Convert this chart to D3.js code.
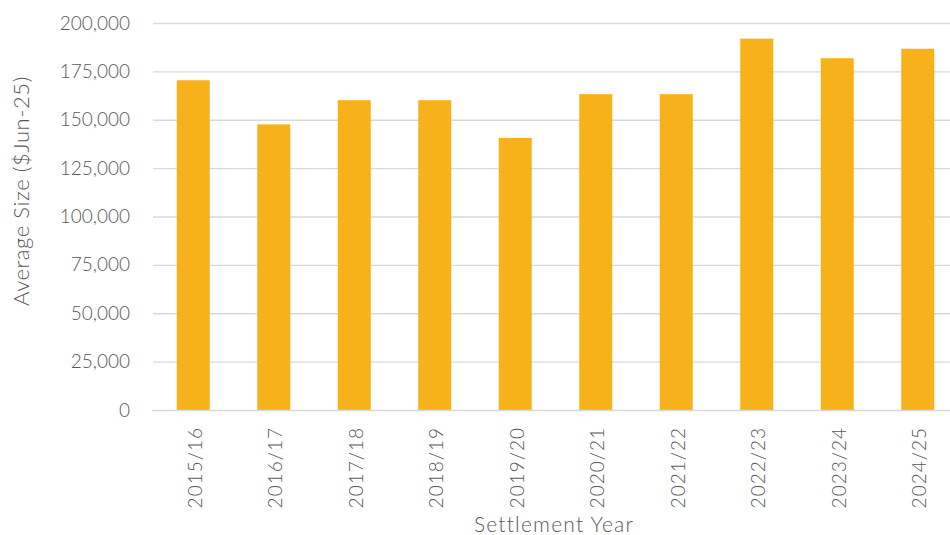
<!DOCTYPE html>
<html>
<head>
<meta charset="utf-8">
<script src="https://cdn.jsdelivr.net/npm/d3@7"></script>
<style>
  html, body { margin: 0; padding: 0; background: #fff; }
  svg { display: block; }
  text { font-family: Lato, "Open Sans", sans-serif; fill: #595959; font-weight: 300; }
</style>
</head>
<body>
<svg id="chart" width="950" height="535"></svg>
<script>
// Settlement years and average settlement size ($Jun-25)
const years = ["2015/16", "2016/17", "2017/18", "2018/19", "2019/20",
               "2020/21", "2021/22", "2022/23", "2023/24", "2024/25"];
const averageSize = [170400, 147600, 160100, 160100, 140600,
                     163200, 163200, 191900, 181800, 186700];
const yTicks = [0, 25000, 50000, 75000, 100000, 125000, 150000, 175000, 200000];

const svg = d3.select("#chart");
const plot = { left: 153, right: 958, top: 23, bottom: 410 };

const x = d3.scaleBand()
  .domain(years)
  .range([plot.left, plot.right])
  .paddingInner(0.59)
  .paddingOuter(0.295);

const y = d3.scaleLinear()
  .domain([0, 200000])
  .range([plot.bottom, plot.top]);

const fmt = d3.format(",");

// Horizontal gridlines
svg.append("g")
  .selectAll("line")
  .data(yTicks.filter(d => d > 0))
  .join("line")
  .attr("x1", plot.left)
  .attr("x2", plot.right)
  .attr("y1", d => y(d) + 0.5)
  .attr("y2", d => y(d) + 0.5)
  .attr("stroke", "#d9d9d9")
  .attr("stroke-width", 1.3);

// Y axis labels
const yAxis = d3.axisLeft(y).tickValues(yTicks).tickFormat(fmt).tickSize(0).tickPadding(0);
const gy = svg.append("g")
  .attr("transform", `translate(130,0)`)
  .call(yAxis);
gy.select(".domain").remove();
gy.selectAll("text")
  .attr("font-size", 19)
  .attr("fill", "#595959")
  .style("font-family", "Lato, 'Open Sans', sans-serif");

// Bars
svg.append("g")
  .selectAll("rect")
  .data(years.map((yr, i) => ({ yr, v: averageSize[i] })))
  .join("rect")
  .attr("x", d => x(d.yr))
  .attr("width", x.bandwidth())
  .attr("y", d => y(d.v))
  .attr("height", d => y(0) - y(d.v))
  .attr("fill", "#F7B11B");

// X axis baseline and rotated category labels
const xAxis = d3.axisBottom(x).tickSize(0).tickPadding(0);
const gx = svg.append("g")
  .attr("transform", `translate(0,${plot.bottom})`)
  .call(xAxis);
gx.select(".domain").remove();
svg.append("line")
  .attr("x1", plot.left - 1)
  .attr("x2", plot.right)
  .attr("y1", plot.bottom + 0.5)
  .attr("y2", plot.bottom + 0.5)
  .attr("stroke", "#d9d9d9")
  .attr("stroke-width", 1.3);
gx.selectAll("text")
  .attr("font-size", 19)
  .attr("fill", "#595959")
  .style("font-family", "Lato, 'Open Sans', sans-serif")
  .attr("letter-spacing", 1)
  .attr("text-anchor", "end")
  .attr("dominant-baseline", "central")
  .attr("dy", 0)
  .attr("transform", "translate(1,17) rotate(-90)");

// Axis titles
svg.append("text")
  .attr("transform", "translate(20,191) rotate(-90)")
  .attr("text-anchor", "middle")
  .attr("dominant-baseline", "central")
  .attr("font-size", 22)
  .attr("letter-spacing", 0.6)
  .text("Average Size ($Jun-25)");

svg.append("text")
  .attr("x", 554)
  .attr("y", 532)
  .attr("text-anchor", "middle")
  .attr("font-size", 21)
  .attr("letter-spacing", 1.2)
  .text("Settlement Year");
</script>
</body>
</html>
